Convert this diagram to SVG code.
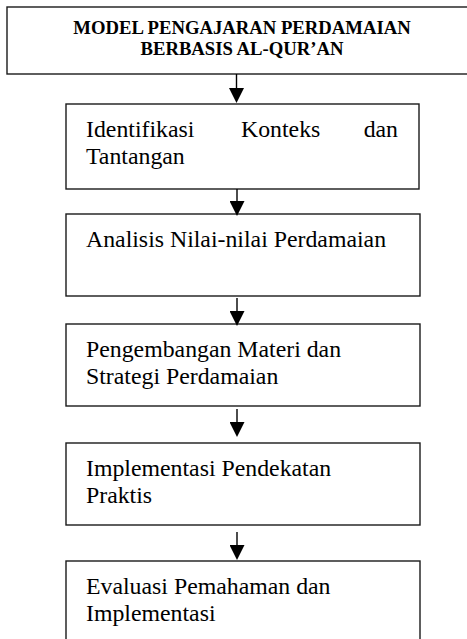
<svg xmlns="http://www.w3.org/2000/svg" width="467" height="639" viewBox="0 0 467 639">
<style>
.box{fill:#fff;stroke:#1a1a1a;stroke-width:1.4}
.t{font-family:"Liberation Serif","Times New Roman",serif;font-size:23.8px;fill:#000}
.title{font-family:"Liberation Serif","Times New Roman",serif;font-size:18.7px;font-weight:bold;fill:#000;text-anchor:middle}
.c{stroke:#000;stroke-width:1.4;fill:none;marker-end:url(#ah)}
</style>
<defs>
<marker id="ah" viewBox="0 0 15 15" refX="12" refY="7.5" markerWidth="15" markerHeight="15" markerUnits="userSpaceOnUse" orient="auto">
<path d="M0,0 L15,7.5 L0,15 z" fill="#000"/>
</marker>
</defs>
<rect width="467" height="639" fill="#fff"/>
<g id="n0">
<rect class="box" x="7" y="7" width="472" height="67"/>
<text class="title" x="242" y="33.5">MODEL PENGAJARAN PERDAMAIAN</text>
<text class="title" x="242" y="54.5">BERBASIS AL-QUR’AN</text>
</g>
<g id="n1">
<rect class="box" x="66" y="104" width="353" height="85"/>
<text class="t" y="137"><tspan x="86">Identifikasi</tspan><tspan x="241">Konteks</tspan><tspan x="398" text-anchor="end">dan</tspan></text>
<text class="t" x="86" y="164">Tantangan</text>
</g>
<g id="n2">
<rect class="box" x="66" y="214" width="354" height="82"/>
<text class="t" x="86" y="247">Analisis Nilai-nilai Perdamaian</text>
</g>
<g id="n3">
<rect class="box" x="66" y="324" width="354" height="82"/>
<text class="t" x="86" y="357">Pengembangan Materi dan</text>
<text class="t" x="86" y="384">Strategi Perdamaian</text>
</g>
<g id="n4">
<rect class="box" x="66" y="443" width="354" height="82"/>
<text class="t" x="86" y="476">Implementasi Pendekatan</text>
<text class="t" x="86" y="503">Praktis</text>
</g>
<g id="n5">
<rect class="box" x="66" y="561" width="354" height="90"/>
<text class="t" x="86" y="594">Evaluasi Pemahaman dan</text>
<text class="t" x="86" y="621">Implementasi</text>
</g>
<g id="connectors">
<line class="c" x1="236.5" y1="74" x2="236.5" y2="100"/>
<line class="c" x1="237" y1="189" x2="237" y2="213"/>
<line class="c" x1="237" y1="298" x2="237" y2="323"/>
<line class="c" x1="237" y1="409" x2="237" y2="434"/>
<line class="c" x1="237" y1="532" x2="237" y2="557"/>
</g>
</svg>
